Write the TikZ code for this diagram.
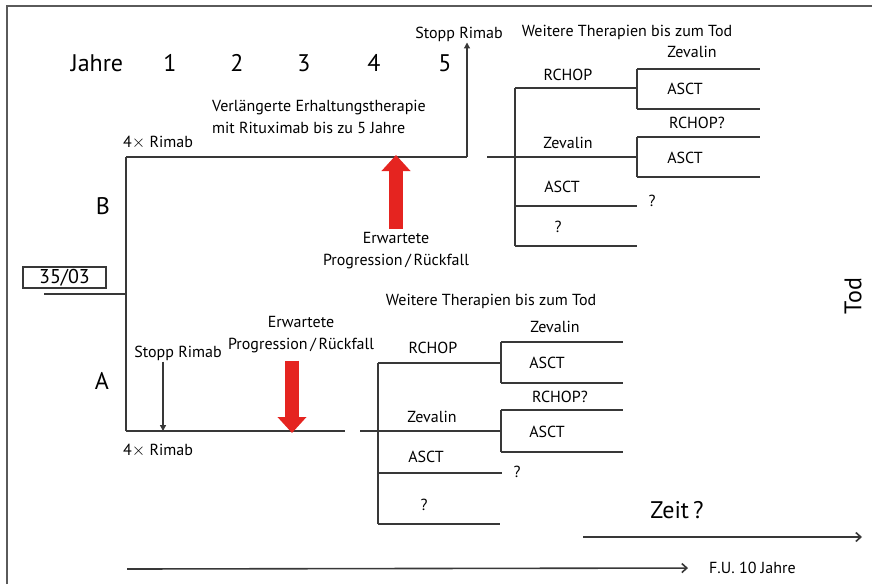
\documentclass[tikz,border=0pt]{standalone}
\usepackage{fontspec}
\setmainfont{PT Sans}
\usetikzlibrary{arrows.meta,positioning}
\definecolor{linegray}{HTML}{383838}
\definecolor{framegray}{HTML}{5A5A5A}
\definecolor{arrowred}{HTML}{E52420}

\begin{document}
\begin{tikzpicture}[x=1pt, y=-1pt,
    line/.style={draw=linegray, line width=1.9pt},
    lbl/.style={font=\fontsize{16}{22}\selectfont, inner sep=1pt, align=center},
    big/.style={font=\fontsize{24}{28}\selectfont, inner sep=1pt},
    arrow/.style={draw=linegray, line width=1.3pt, -{Triangle[width=6pt,length=6pt]}},
    timearrow/.style={draw=linegray, line width=1.6pt, -{Straight Barb[width=9pt,length=5pt,line width=1.6pt]}},
    redarrow/.style={draw=arrowred, line width=14pt, -{Triangle[width=28pt,length=16pt]}}
]
\useasboundingbox (0,0) rectangle (872,584);
\draw[framegray, line width=1.2pt] (7,584) -- (7,6) -- (872,6);

% time axis
\node[big] (jahre) at (97,63) {Jahre};
\node[big] (y1) at (170,63) {1};
\node[big] (y2) at (237,63) {2};
\node[big] (y3) at (304,63) {3};
\node[big] (y4) at (374,63) {4};
\node[big] (y5) at (445,63) {5};

% start
\node[draw=linegray, line width=1.6pt, minimum width=83pt, minimum height=21pt, inner sep=0pt,
      font=\fontsize{20}{22}\selectfont] (studie) at (64.5,277.5) {35/03};
\coordinate (start) at (44,294);
\coordinate (split) at (126,294);
\coordinate (bTop) at (126,157);
\coordinate (aBot) at (126,431);
\draw[line] (start) -- (split);
\draw[line] (bTop) -- (aBot);
\node[big] (B) at (103,206) {B};
\node[big] (A) at (102,381) {A};

% arm B
\coordinate (bEnd) at (467,157);
\node[lbl] (stopB) at (459,34) {Stopp Rimab};
\node[lbl, anchor=west] (rimabB) at (122,143) {4$\times$ Rimab};
\node[lbl, align=left, anchor=west] (erhalt) at (211,117)
      {Verlängerte Erhaltungstherapie\\mit Rituximab bis zu 5 Jahre};
\draw[line] (bTop) -- (bEnd);
\draw[arrow] (bEnd) -- (bEnd |- stopB.south);
\node[lbl] (progB) at (396,251) {Erwartete\\Progression\,/\,Rückfall};
\coordinate (rbTip) at (396,155);
\draw[redarrow] (progB.north) ++(0,-3) -- (rbTip);

% further therapies B
\node[lbl] (weiterB) at (627,32) {Weitere Therapien bis zum Tod};
\coordinate (bIn) at (487,157);
\coordinate (bT1) at (515,88);
\coordinate (bT2) at (515,157);
\coordinate (bT3) at (515,206);
\coordinate (bT4) at (515,246);
\coordinate (bS1) at (637,88);
\coordinate (bS2) at (637,157);
\draw[line] (bT1) -- (bT4);
\draw[line] (bT1) -- (bS1);
\draw[line] (bIn) -- (bS2);
\draw[line] (bT3) -- (637,206);
\draw[line] (bT4) -- (637,246);
\draw[line] (637,69) -- (637,109);
\draw[line] (637,69) -- (760,69);
\draw[line] (637,109) -- (760,109);
\draw[line] (637,137) -- (637,177);
\draw[line] (637,137) -- (760,137);
\draw[line] (637,177) -- (760,177);
\node[lbl] (bRchop) at (568,75) {RCHOP};
\node[lbl] (bZeva) at (568,143) {Zevalin};
\node[lbl] (bAsct) at (562,187) {ASCT};
\node[lbl] (bQ) at (558,227) {?};
\node[lbl] (bZeva2) at (692,52) {Zevalin};
\node[lbl] (bAsct2) at (685,89) {ASCT};
\node[lbl] (bRchop2) at (697,123) {RCHOP?};
\node[lbl] (bAsct3) at (685,158) {ASCT};
\node[lbl] (bQ2) at (652,201) {?};

% arm A
\coordinate (aEnd) at (345,431);
\coordinate (aStop) at (163,431);
\draw[line] (aBot) -- (aEnd);
\node[lbl] (stopA) at (178,353) {Stopp Rimab};
\draw[arrow] (stopA.south -| aStop) -- (aStop);
\node[lbl, anchor=west] (rimabA) at (122,451) {4$\times$ Rimab};
\node[lbl] (progA) at (301,335) {Erwartete\\Progression\,/\,Rückfall};
\coordinate (raTip) at (292,433);
\draw[redarrow] (progA.south -| raTip) ++(0,6) -- (raTip);

% further therapies A
\node[lbl] (weiterA) at (491,301) {Weitere Therapien bis zum Tod};
\coordinate (aIn) at (360,431);
\coordinate (aT1) at (378,363);
\coordinate (aT2) at (378,431);
\coordinate (aT3) at (378,473);
\coordinate (aT4) at (378,524);
\coordinate (aS1) at (501,363);
\coordinate (aS2) at (501,431);
\draw[line] (aT1) -- (aT4);
\draw[line] (aT1) -- (aS1);
\draw[line] (aIn) -- (aS2);
\draw[line] (aT3) -- (502,473);
\draw[line] (aT4) -- (500,524);
\draw[line] (501,342) -- (501,383);
\draw[line] (501,342) -- (623,342);
\draw[line] (501,383) -- (623,383);
\draw[line] (501,410) -- (501,452);
\draw[line] (501,410) -- (623,410);
\draw[line] (501,452) -- (623,452);
\node[lbl] (aRchop) at (433,348) {RCHOP};
\node[lbl] (aZeva) at (432,417) {Zevalin};
\node[lbl] (aAsct) at (426,457) {ASCT};
\node[lbl] (aQ) at (424,505) {?};
\node[lbl] (aZeva2) at (555,327) {Zevalin};
\node[lbl] (aAsct2) at (547,363) {ASCT};
\node[lbl] (aRchop2) at (560,397) {RCHOP?};
\node[lbl] (aAsct3) at (547,432) {ASCT};
\node[lbl] (aQ2) at (517,472) {?};

% time
\node[big, rotate=90] (tod) at (853,296) {Tod};
\node[big] (zeit) at (677,510) {Zeit\,?};
\coordinate (zeitStart) at (583,537);
\coordinate (zeitEnd) at (862,537);
\draw[timearrow] (zeitStart) -- (zeitEnd);
\coordinate (fuStart) at (127,569);
\node[lbl, anchor=west] (fu) at (708,568) {F.U. 10 Jahre};
\draw[timearrow, shorten >=20pt] (fuStart) -- (fu.west);
\end{tikzpicture}
\end{document}
